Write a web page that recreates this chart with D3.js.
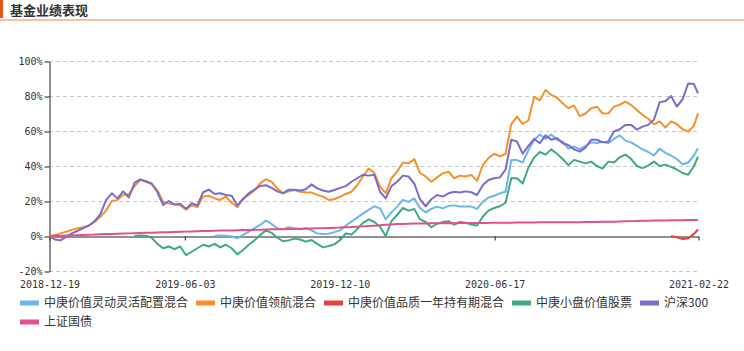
<!DOCTYPE html>
<html>
<head>
<meta charset="utf-8">
<script src="https://cdn.jsdelivr.net/npm/d3@7"></script>
<style>
  html, body { margin: 0; padding: 0; background: #fff; }
  svg { display: block; }
  .axis-label { font-family: "DejaVu Sans Mono", monospace; font-size: 10px; fill: #333; }
  .legend-text { font-family: "Noto Sans CJK SC", sans-serif; font-size: 12px; fill: #333; }
</style>
</head>
<body>
<svg id="chart" width="744" height="351"></svg>
<script>
const d3 = globalThis.d3;

// weekly observation dates
const dates = [
  "2018-12-19","2018-12-26","2019-01-02","2019-01-09","2019-01-16","2019-01-23","2019-01-30","2019-02-06","2019-02-13","2019-02-20",
  "2019-02-27","2019-03-06","2019-03-13","2019-03-20","2019-03-27","2019-04-03","2019-04-10","2019-04-17","2019-04-24","2019-05-01",
  "2019-05-08","2019-05-15","2019-05-22","2019-05-29","2019-06-05","2019-06-12","2019-06-19","2019-06-26","2019-07-03","2019-07-10",
  "2019-07-17","2019-07-24","2019-07-31","2019-08-07","2019-08-14","2019-08-21","2019-08-28","2019-09-04","2019-09-11","2019-09-18",
  "2019-09-25","2019-10-02","2019-10-09","2019-10-16","2019-10-23","2019-10-30","2019-11-06","2019-11-13","2019-11-20","2019-11-27",
  "2019-12-04","2019-12-11","2019-12-18","2019-12-25","2020-01-01","2020-01-08","2020-01-15","2020-01-22","2020-01-29","2020-02-05",
  "2020-02-12","2020-02-19","2020-02-26","2020-03-04","2020-03-11","2020-03-18","2020-03-25","2020-04-01","2020-04-08","2020-04-15",
  "2020-04-22","2020-04-29","2020-05-06","2020-05-13","2020-05-20","2020-05-27","2020-06-03","2020-06-10","2020-06-17","2020-06-24",
  "2020-07-01","2020-07-08","2020-07-15","2020-07-22","2020-07-29","2020-08-05","2020-08-12","2020-08-19","2020-08-26","2020-09-02",
  "2020-09-09","2020-09-16","2020-09-23","2020-09-30","2020-10-07","2020-10-14","2020-10-21","2020-10-28","2020-11-04","2020-11-11",
  "2020-11-18","2020-11-25","2020-12-02","2020-12-09","2020-12-16","2020-12-23","2020-12-30","2021-01-06","2021-01-13","2021-01-20",
  "2021-01-27","2021-02-03","2021-02-10","2021-02-17","2021-02-22"
];

// cumulative return, %; null = fund not yet started
const lingdong = [
  null,null,null,null,null,null,null,null,null,null,
  null,null,null,null,null,null,null,null,null,null,
  null,null,null,null,null,null,null,null,null,0,
  0.3,0.2,-0.3,-1.3,0.6,2.5,4.5,6.3,8.8,6.9,
  4.4,3.8,5.0,4.5,3.8,4.6,3.2,1.5,1.1,1.3,
  2.2,3.2,6.0,8.2,10.5,12.8,14.9,17.0,15.8,9.5,
  13.5,16.8,20.6,19.5,21.5,16.0,13.5,15.5,16.8,15.8,
  17.2,17.5,16.8,16.8,16.8,15.5,19.5,22.0,23.0,24.4,
  25.3,43.4,43.4,42.0,49.0,54.9,58.0,55.5,58.0,55.0,
  53.9,50.0,51.0,49.5,51.5,53.5,53.2,53.9,53.0,55.5,
  57.5,54.5,53.5,51.5,49.5,48.0,46.0,50.0,47.5,46.0,
  44.0,41.0,42.0,46.0,50.1
];

const linghang = [
  0,0.5,1.5,2.5,3.5,4.5,5.0,6.0,8.0,11.0,
  14.5,20.0,20.5,23.5,24.0,28.5,32.0,31.5,29.5,26.0,
  19.5,18.5,18.0,17.5,15.0,17.5,16.5,22.5,23.0,21.5,
  20.6,22.5,19.0,16.4,21.5,23.4,26.0,30.1,32.4,31.0,
  27.2,24.4,25.5,26.3,25.3,25.0,24.8,23.5,22.5,20.6,
  21.0,22.5,24.0,25.3,29.0,34.0,38.5,36.0,28.2,24.5,
  33.0,36.8,42.0,41.5,44.0,36.0,34.0,31.0,33.5,35.8,
  36.8,33.0,34.5,34.0,34.9,31.5,40.5,44.5,47.0,45.5,
  47.0,64.0,68.2,64.0,66.0,79.6,77.5,83.5,80.6,79.0,
  75.8,73.0,74.5,68.5,70.0,73.0,73.9,70.0,70.1,73.9,
  75.0,76.8,74.9,72.0,69.1,67.0,63.8,65.5,62.0,65.5,
  64.0,61.0,59.6,63.0,70.1
];

const pinzhi = [
  null,null,null,null,null,null,null,null,null,null,
  null,null,null,null,null,null,null,null,null,null,
  null,null,null,null,null,null,null,null,null,null,
  null,null,null,null,null,null,null,null,null,null,
  null,null,null,null,null,null,null,null,null,null,
  null,null,null,null,null,null,null,null,null,null,
  null,null,null,null,null,null,null,null,null,null,
  null,null,null,null,null,null,null,null,null,null,
  null,null,null,null,null,null,null,null,null,null,
  null,null,null,null,null,null,null,null,null,null,
  null,null,null,null,null,null,null,null,null,0,
  -0.8,-1.7,-1.3,1.2,3.7
];

const xiaopan = [
  null,null,null,null,null,null,null,null,null,null,
  null,null,null,null,null,0,0.3,0.2,-1.0,-4.5,
  -7.0,-6.0,-7.5,-6.0,-11.0,-9.0,-7.0,-5.0,-6.0,-4.5,
  -6.5,-5.0,-7.0,-10.5,-8.0,-5.0,-2.5,0.6,3.2,1.8,
  -1.0,-3.0,-2.5,-1.5,-2.0,-3.2,-2.3,-4.5,-6.5,-5.7,
  -4.8,-2.3,1.5,0.8,4.0,7.5,9.5,8.0,5.3,0.0,
  8.5,12.0,16.0,14.5,15.5,9.5,8.0,5.0,7.0,8.0,
  8.5,6.5,8.0,7.6,6.5,6.0,11.0,14.5,16.0,17.0,
  19.0,33.0,33.0,30.0,39.0,44.8,48.0,46.5,49.5,47.0,
  44.0,40.5,43.5,42.5,41.5,42.5,40.0,38.5,42.5,42.0,
  45.0,46.5,44.0,40.0,38.8,40.2,42.5,40.0,40.8,39.5,
  38.0,36.0,35.0,40.0,45.3
];

const hs300 = [
  0,-2.0,-2.5,-0.5,1.5,3.0,4.5,6.0,8.5,12.5,
  20.5,24.4,21.5,25.5,22.0,30.5,32.4,31.0,30.0,25.0,
  17.7,20.0,18.0,18.5,15.5,18.7,17.5,25.0,26.5,24.0,
  24.4,23.4,23.0,17.5,21.0,24.4,26.5,28.6,29.0,27.5,
  25.5,24.4,26.5,26.5,26.0,26.7,29.5,27.2,26.0,25.3,
  26.3,27.5,28.5,31.0,33.0,35.0,34.5,35.0,25.3,21.5,
  28.5,31.0,34.5,34.0,30.0,21.0,17.0,21.0,23.4,22.5,
  24.4,25.3,24.8,25.5,25.0,23.4,29.0,32.0,33.0,33.5,
  38.0,55.0,54.0,47.0,51.5,55.5,53.0,57.5,55.0,56.0,
  53.0,52.0,49.5,48.2,50.5,55.0,55.0,53.5,54.0,59.8,
  61.0,63.5,63.5,60.8,62.5,63.5,66.5,76.5,77.0,80.0,
  74.0,78.0,87.2,86.8,81.5
];

const guozhai = [
  0,0.1,0.2,0.3,0.4,0.5,0.6,0.7,0.8,1.0,
  1.1,1.2,1.3,1.4,1.5,1.6,1.7,1.8,1.9,2.0,
  2.1,2.2,2.3,2.4,2.5,2.6,2.7,2.8,2.9,3.0,
  3.1,3.2,3.2,3.3,3.4,3.5,3.5,3.6,3.7,3.8,
  3.8,3.9,4.0,4.0,4.1,4.2,4.3,4.4,4.5,4.6,
  4.7,4.8,5.0,5.1,5.3,5.5,5.7,5.9,6.1,6.4,
  6.6,6.8,6.9,7.0,7.1,7.2,7.2,7.3,7.3,7.3,
  7.4,7.3,7.4,7.4,7.4,7.5,7.5,7.5,7.6,7.6,
  7.6,7.6,7.7,7.7,7.7,7.7,7.8,7.8,7.8,7.8,
  7.9,7.9,7.9,7.9,8.0,8.0,8.0,8.1,8.1,8.2,
  8.3,8.4,8.5,8.6,8.7,8.7,8.8,8.9,8.9,9.0,
  9.0,9.0,9.1,9.1,9.1
];

const seriesNames = ["中庚价值灵动灵活配置混合", "中庚价值领航混合", "中庚价值品质一年持有期混合", "中庚小盘价值股票", "沪深300", "上证国债"];
const seriesValues = [lingdong, linghang, pinzhi, xiaopan, hs300, guozhai];
const seriesColors = ["#6cb6ea", "#f7902b", "#e6403f", "#3dab82", "#7b6cc9", "#e2508f"];

const yTicks = [-20, 0, 20, 40, 60, 80, 100];
const xTickDates = ["2018-12-19", "2019-06-03", "2019-12-10", "2020-06-17", "2021-02-22"];

const parse = d3.timeParse("%Y-%m-%d");
const svg = d3.select("#chart");

// header
svg.append("rect").attr("x", 0).attr("y", 0).attr("width", 3).attr("height", 18).attr("fill", "#e8541e");
svg.append("text")
  .attr("x", 10).attr("y", 15)
  .style("font-family", "'Noto Sans CJK SC', sans-serif")
  .style("font-size", "13px").style("font-weight", "bold").style("fill", "#333")
  .text("基金业绩表现");
svg.append("rect").attr("x", 0).attr("y", 19).attr("width", 744).attr("height", 2).attr("fill", "#f2c4a0");

const x = d3.scaleTime()
  .domain([parse(dates[0]), parse(dates[dates.length - 1])])
  .range([49, 698]);
const y = d3.scaleLinear().domain([-20, 100]).range([271, 61]);

// dashed grid
svg.append("g")
  .selectAll("line")
  .data(yTicks.filter(t => t !== 0))
  .join("line")
  .attr("x1", x.range()[0]).attr("x2", x.range()[1] + 2)
  .attr("y1", d => y(d) + 0.5).attr("y2", d => y(d) + 0.5)
  .attr("stroke", "#c8c8c8").attr("stroke-dasharray", "4,3");

// y axis
const yAxis = svg.append("g")
  .attr("transform", `translate(${x.range()[0] + 0.5},0.5)`)
  .call(d3.axisLeft(y).tickValues(yTicks).tickSize(5).tickSizeOuter(0).tickFormat(d => d + "%"));
yAxis.select(".domain").attr("stroke", "#222");
yAxis.selectAll(".tick line").attr("stroke", "#222");
yAxis.selectAll("text").attr("class", "axis-label").attr("x", -7);

// x axis on the zero line
const xAxis = svg.append("g")
  .attr("transform", `translate(0.5,${y(0) + 0.5})`)
  .call(d3.axisBottom(x).tickValues(xTickDates.map(parse)).tickSize(4).tickSizeOuter(0).tickFormat(d3.timeFormat("%Y-%m-%d")));
xAxis.select(".domain").attr("stroke", "#222");
xAxis.selectAll(".tick line").attr("stroke", "#222");
xAxis.selectAll("text").attr("class", "axis-label").attr("y", y(-20) - y(0) + 9).attr("dy", "0.71em");

// lines
const line = d3.line()
  .defined(d => d.v !== null)
  .x(d => x(d.date))
  .y(d => y(d.v));

seriesValues.forEach((values, i) => {
  const pts = values.map((v, j) => ({ date: parse(dates[j]), v }));
  svg.append("path")
    .datum(pts)
    .attr("fill", "none")
    .attr("stroke", seriesColors[i])
    .attr("stroke-width", 2)
    .attr("stroke-linejoin", "round")
    .attr("d", line);
});

// legend
const legendRows = [[0, 1, 2, 3, 4], [5]];
legendRows.forEach((row, r) => {
  let cx = 20;
  const ly = 303 + r * 19;
  row.forEach(i => {
    svg.append("rect")
      .attr("x", cx).attr("y", ly - 2.5).attr("width", 19).attr("height", 5)
      .attr("fill", seriesColors[i]);
    const t = svg.append("text")
      .attr("class", "legend-text")
      .attr("x", cx + 24).attr("y", ly).attr("dy", "0.35em")
      .text(seriesNames[i]);
    cx += 24 + t.node().getComputedTextLength() + 8;
  });
});
</script>
</body>
</html>
